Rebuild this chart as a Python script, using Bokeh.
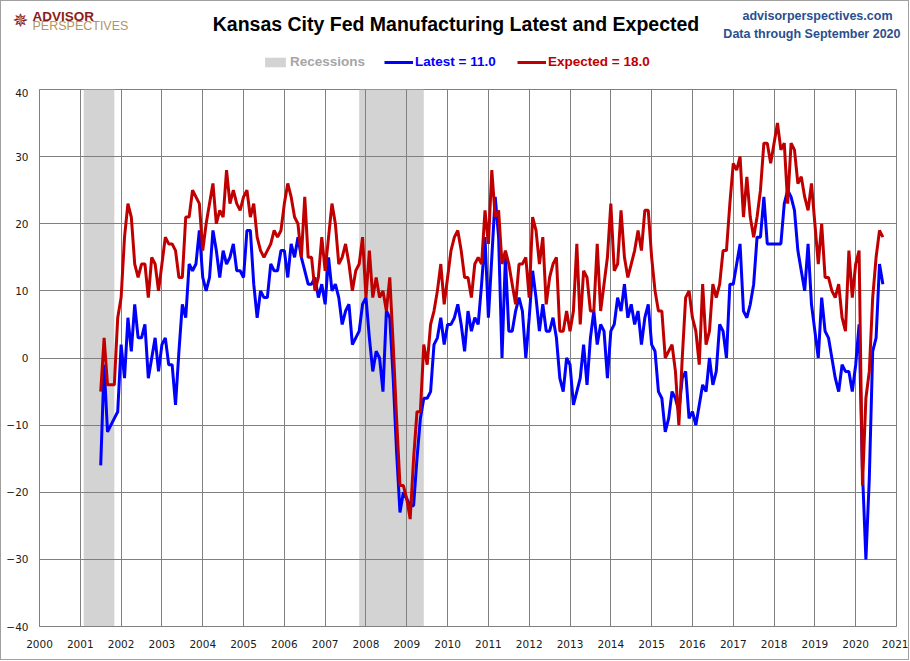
import pandas as pd
from bokeh.plotting import figure
from bokeh.layouts import column, row
from bokeh.models import ColumnDataSource, FixedTicker, Label, Legend, LegendItem, Range1d
from bokeh.embed import file_html
from bokeh.resources import INLINE

# monthly survey, Jul 2001 .. Sep 2020
start_month = "2001-07-01"
end_month = "2020-09-01"

latest = [
    -16, -1, -11, -10, -9, -8,
    2, -3, 6, 1, 8, 3, 3, 5, -3, 0, 3, -2,          # 2002
    2, 3, -1, -1, -7, 1, 8, 6, 14, 13, 14, 19,      # 2003
    12, 10, 12, 19, 16, 12, 16, 14, 15, 17, 13, 13, # 2004
    12, 19, 19, 11, 6, 10, 9, 9, 14, 13, 13, 16,    # 2005
    16, 12, 17, 15, 18, 15, 13, 11, 11, 12, 9, 11,  # 2006
    8, 15, 10, 11, 9, 5, 7, 8, 2, 3, 4, 8,          # 2007
    9, 3, -2, 1, 0, -5, 7, 6, -3, -14, -23, -20,    # 2008
    -21, -22, -22, -15, -9, -6, -6, -5, 2, 3, 6, 2, # 2009
    5, 5, 6, 8, 5, 1, 7, 4, 6, 5, 11, 18,           # 2010
    6, 15, 24, 18, 0, 15, 4, 4, 7, 9, 7, 0,         # 2011
    6, 13, 9, 4, 8, 4, 4, 6, 3, -3, -5, 0,          # 2012
    -1, -7, -5, -3, 2, -4, 3, 7, 2, 5, 4, -3,       # 2013
    4, 5, 9, 7, 11, 6, 8, 5, 7, 2, 6, 8,            # 2014
    2, 1, -5, -6, -11, -9, -5, -6, -8, -3, -2, -9,  # 2015
    -8, -10, -7, -4, -5, 0, -4, -2, 5, 4, 0, 11,    # 2016
    11, 14, 17, 7, 6, 8, 11, 18, 18, 24, 17, 17,    # 2017
    17, 17, 17, 23, 25, 24, 22, 16, 13, 10, 17, 8,  # 2018
    4, 0, 9, 4, 3, 0, -3, -5, -1, -2, -2, -5,       # 2019
    -1, 5, -17, -30, -18, 1, 3, 14, 11,             # 2020
]

expected = [
    -5, 3, -4, -4, -4, 6,
    9, 18, 23, 21, 14, 12, 14, 14, 9, 15, 14, 10,      # 2002
    14, 18, 17, 17, 16, 12, 12, 21, 21, 25, 24, 23,    # 2003
    16, 20, 23, 26, 20, 22, 21, 28, 23, 25, 23, 22,    # 2004
    24, 25, 21, 23, 18, 16, 15, 16, 17, 19, 18, 19,    # 2005
    23, 26, 24, 21, 20, 15, 24, 15, 15, 10, 12, 18,    # 2006
    13, 18, 23, 20, 14, 15, 17, 14, 10, 13, 14, 18,    # 2007
    9, 16, 9, 12, 9, 10, 7, 12, 2, -9, -19, -19,       # 2008
    -21, -24, -15, -8, -8, 2, -1, 5, 7, 10, 14, 8,     # 2009
    12, 16, 18, 19, 16, 12, 12, 9, 14, 15, 14, 22,     # 2010
    17, 28, 21, 22, 14, 16, 14, 11, 8, 14, 14, 15,     # 2011
    9, 21, 19, 14, 18, 8, 12, 14, 15, 4, 4, 7,         # 2012
    4, 7, 17, 5, 13, 12, 7, 7, 17, 7, 11, 15,          # 2013
    23, 13, 14, 22, 15, 12, 14, 16, 19, 16, 22, 22,    # 2014
    15, 10, 7, 7, 0, 1, 2, -2, -10, 0, 9, 10,          # 2015
    6, 4, -1, 11, 2, 4, 11, 9, 11, 16, 16, 23,         # 2016
    29, 28, 30, 21, 27, 21, 18, 21, 25, 32, 32, 29,    # 2017
    32, 35, 31, 32, 23, 32, 31, 26, 27, 24, 22, 26,    # 2018
    20, 14, 20, 12, 12, 10, 9, 11, 6, 4, 16, 9,        # 2019
    14, 16, -19, -6, -2, 9, 15, 19, 18,                # 2020
]

recession_start = ["2001-02-01", "2007-11-01"]
recession_end = ["2001-11-01", "2009-06-01"]

year_ticks = list(range(2000, 2022))
value_ticks = list(range(-40, 41, 10))

SANS = "Liberation Sans"
TICKFONT = "DejaVu Sans"
W = 907
HEAD_H = 87
NAN = float("nan")


def frac_year(d):
    d = pd.to_datetime(d)
    return d.year + (d.month - 1) / 12


months = pd.date_range(start_month, end_month, freq="MS")
src = ColumnDataSource(dict(
    x=[frac_year(m) for m in months],
    latest=latest,
    expected=expected,
))
rec = ColumnDataSource(dict(
    left=[frac_year(d) for d in recession_start],
    right=[frac_year(d) for d in recession_end],
    bottom=[value_ticks[0]] * len(recession_start),
    top=[value_ticks[-1]] * len(recession_start),
))

# ---- main chart
p = figure(frame_width=857, frame_height=537, output_backend="svg", toolbar_location=None,
           x_range=Range1d(year_ticks[0], year_ticks[-1]),
           y_range=Range1d(value_ticks[0], value_ticks[-1]),
           min_border_left=38, min_border_right=12, min_border_top=1, min_border_bottom=33)
p.background_fill_color = "white"
p.border_fill_color = "white"
p.outline_line_color = "#808080"

p.quad(left="left", right="right", bottom="bottom", top="top", source=rec,
       fill_color="#d3d3d3", line_color=None, level="image")
p.line("x", "latest", source=src, line_color="#0000ff", line_width=3)
p.line("x", "expected", source=src, line_color="#c00000", line_width=3)

p.xaxis.ticker = FixedTicker(ticks=year_ticks)
p.yaxis.ticker = FixedTicker(ticks=value_ticks)
p.xgrid.ticker = FixedTicker(ticks=year_ticks)
p.ygrid.ticker = FixedTicker(ticks=value_ticks)
p.grid.grid_line_color = "#808080"
p.grid.grid_line_width = 1
p.axis.axis_line_color = "#808080"
p.axis.major_tick_line_color = None
p.axis.major_tick_out = 0
p.axis.minor_tick_line_color = None
p.axis.major_label_text_font = TICKFONT
p.axis.major_label_text_font_size = "10.5px"
p.axis.major_label_text_color = "#1a1a1a"
p.yaxis.major_label_standoff = 11
p.xaxis.major_label_standoff = 13

# ---- header: title, logo, source and legend (pixel coordinates, y runs downwards)
head = figure(width=W, height=HEAD_H, output_backend="svg", toolbar_location=None,
              x_range=Range1d(0, W), y_range=Range1d(HEAD_H, 0),
              x_axis_type=None, y_axis_type=None, min_border=0)
head.outline_line_color = None
head.background_fill_color = "white"
head.border_fill_color = "white"

# legend keys styled like the chart's renderers
key_rec = head.quad(left=[NAN], right=[NAN], bottom=[NAN], top=[NAN],
                    fill_color="#d3d3d3", line_color=None)
key_lat = head.line(x=[NAN], y=[NAN], line_color="#0000ff", line_width=3)
key_exp = head.line(x=[NAN], y=[NAN], line_color="#c00000", line_width=3)

legend_labels = ["Recessions", f"Latest = {latest[-1]:.1f}", f"Expected = {expected[-1]:.1f}"]
for label, r, color, x0, gw in zip(legend_labels, [key_rec, key_lat, key_exp],
                                   ["#a6a6a6", "#0000ff", "#c00000"],
                                   [261, 383, 516], [26, 29, 29]):
    lg = Legend(items=[LegendItem(label=label, renderers=[r])],
                location=(x0, HEAD_H - 68), orientation="horizontal",
                glyph_width=gw, glyph_height=12, label_height=12, label_standoff=2,
                padding=0, margin=0, spacing=0,
                background_fill_alpha=0, border_line_alpha=0,
                label_text_font=SANS, label_text_font_size="13.5px",
                label_text_font_style="bold", label_text_color=color)
    head.add_layout(lg)

head.add_layout(Label(x=454.5, y=22.5, text="Kansas City Fed Manufacturing Latest and Expected",
                      text_font=SANS, text_font_size="19.5px", text_font_style="bold",
                      text_color="black", text_align="center", text_baseline="middle"))
head.add_layout(Label(x=891, y=14, text="advisorperspectives.com", text_font=SANS,
                      text_font_size="12.5px", text_font_style="bold", text_color="#2a4f8f",
                      text_align="right", text_baseline="middle"))
head.add_layout(Label(x=899, y=32, text="Data through September 2020", text_font=SANS,
                      text_font_size="12.5px", text_font_style="bold", text_color="#2a4f8f",
                      text_align="right", text_baseline="middle"))
head.add_layout(Label(x=19, y=18, text="\u2735", text_font="DejaVu Sans", text_font_size="19px",
                      text_color="#8b1c1c", text_align="center", text_baseline="middle"))
head.add_layout(Label(x=31, y=15, text="ADVISOR", text_font=SANS, text_font_size="13.5px",
                      text_font_style="bold", text_color="#8b1c1c",
                      text_align="left", text_baseline="middle"))
head.add_layout(Label(x=31, y=24.5, text="PERSPECTIVES", text_font=SANS, text_font_size="12.5px",
                      text_color="#b3955a", text_align="left", text_baseline="middle"))

# the header sits in its own row so its frame is not lined up with the chart's
page = column(row(head), p, spacing=0)
page.styles = {"border": "1px solid #a0a0a0"}
open("out.html", "w").write(file_html(page, INLINE))
